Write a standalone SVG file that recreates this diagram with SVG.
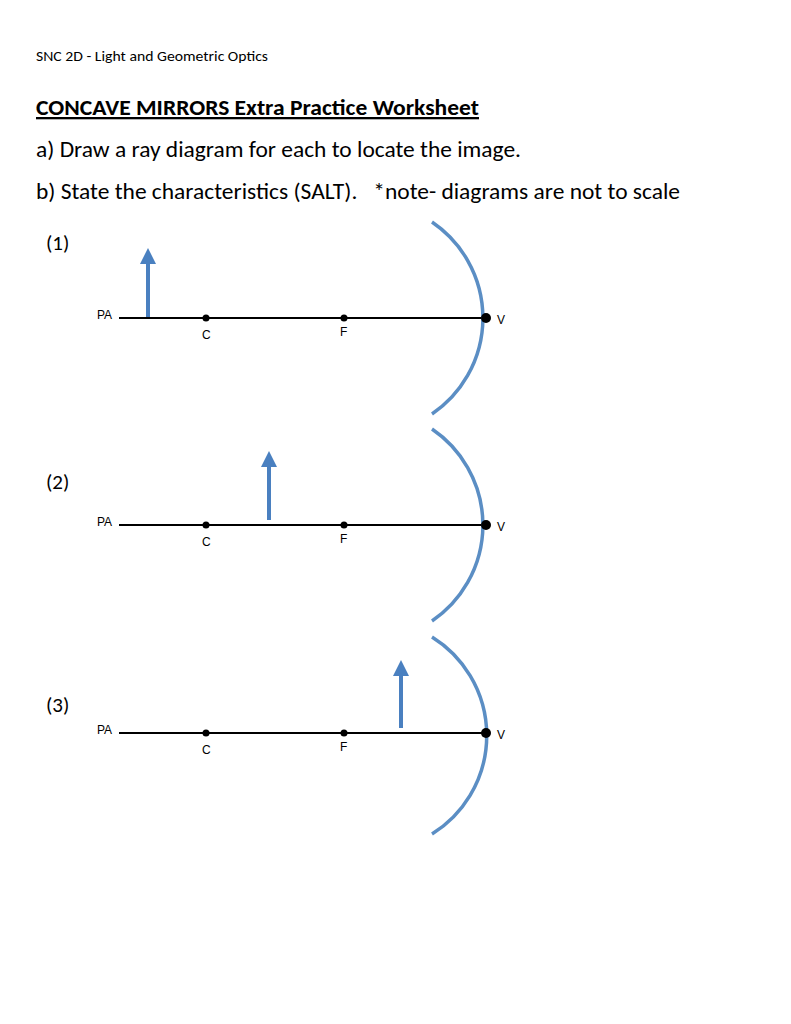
<svg xmlns="http://www.w3.org/2000/svg" width="791" height="1024" viewBox="0 0 791 1024">
<style>
.t{font-family:Calibri,"Open Sans","Liberation Sans",sans-serif;fill:#000}
.s{font-family:"Liberation Sans",Arial,sans-serif;font-size:12px;fill:#000}
.ax{stroke:#000;stroke-width:2}
.mir{fill:none;stroke:#5b8ec4;stroke-width:3.5}
.obj{stroke:#4a80c0;stroke-width:4}
</style>
<defs><marker id="ah" markerWidth="4" markerHeight="4" refX="2" refY="2" orient="auto" markerUnits="strokeWidth"><path d="M0,0 L4,2 L0,4 Z" fill="#4a80c0"/></marker></defs>
<rect width="791" height="1024" fill="#fff"/>
<text class="t" x="36" y="61" font-size="14" textLength="232" lengthAdjust="spacingAndGlyphs">SNC 2D - Light and Geometric Optics</text>
<text class="t" x="36" y="115" font-size="23" font-weight="bold" text-decoration="underline" textLength="443" lengthAdjust="spacingAndGlyphs">CONCAVE MIRRORS Extra Practice Worksheet</text>
<text class="t" x="36" y="157" font-size="23" textLength="485" lengthAdjust="spacingAndGlyphs">a) Draw a ray diagram for each to locate the image.</text>
<text class="t" x="36" y="199" font-size="23" xml:space="preserve" textLength="644" lengthAdjust="spacingAndGlyphs">b) State the characteristics (SALT).   *note- diagrams are not to scale</text>
<g id="d1">
<text class="t" x="46" y="250" font-size="21">(1)</text>
<line class="ax" x1="119" y1="318" x2="486" y2="318"/>
<path class="mir" d="M432,222 A116,116 0 0 1 432,414"/>
<circle cx="206" cy="318" r="3.5"/><circle cx="344" cy="318" r="3.5"/><circle cx="486" cy="318" r="5"/>
<text class="s" x="97" y="319">PA</text><text class="s" x="202" y="339">C</text><text class="s" x="340" y="336">F</text><text class="s" x="497" y="324">V</text>
<line class="obj" x1="148" y1="317" x2="148" y2="256" marker-end="url(#ah)"/>
</g>
<g id="d2">
<text class="t" x="46" y="489" font-size="21">(2)</text>
<line class="ax" x1="119" y1="525" x2="486" y2="525"/>
<path class="mir" d="M432,429 A116,116 0 0 1 432,621"/>
<circle cx="206" cy="525" r="3.5"/><circle cx="344" cy="525" r="3.5"/><circle cx="486" cy="525" r="5"/>
<text class="s" x="97" y="526">PA</text><text class="s" x="202" y="546">C</text><text class="s" x="340" y="543">F</text><text class="s" x="497" y="531">V</text>
<line class="obj" x1="269" y1="520" x2="269" y2="459" marker-end="url(#ah)"/>
</g>
<g id="d3">
<text class="t" x="46" y="712" font-size="21">(3)</text>
<line class="ax" x1="119" y1="733" x2="486" y2="733"/>
<path class="mir" d="M432,637 A116,116 0 0 1 432,834"/>
<circle cx="206" cy="733" r="3.5"/><circle cx="344" cy="733" r="3.5"/><circle cx="486" cy="733" r="5"/>
<text class="s" x="97" y="734">PA</text><text class="s" x="202" y="754">C</text><text class="s" x="340" y="751">F</text><text class="s" x="497" y="739">V</text>
<line class="obj" x1="401" y1="728" x2="401" y2="668" marker-end="url(#ah)"/>
</g>
</svg>
